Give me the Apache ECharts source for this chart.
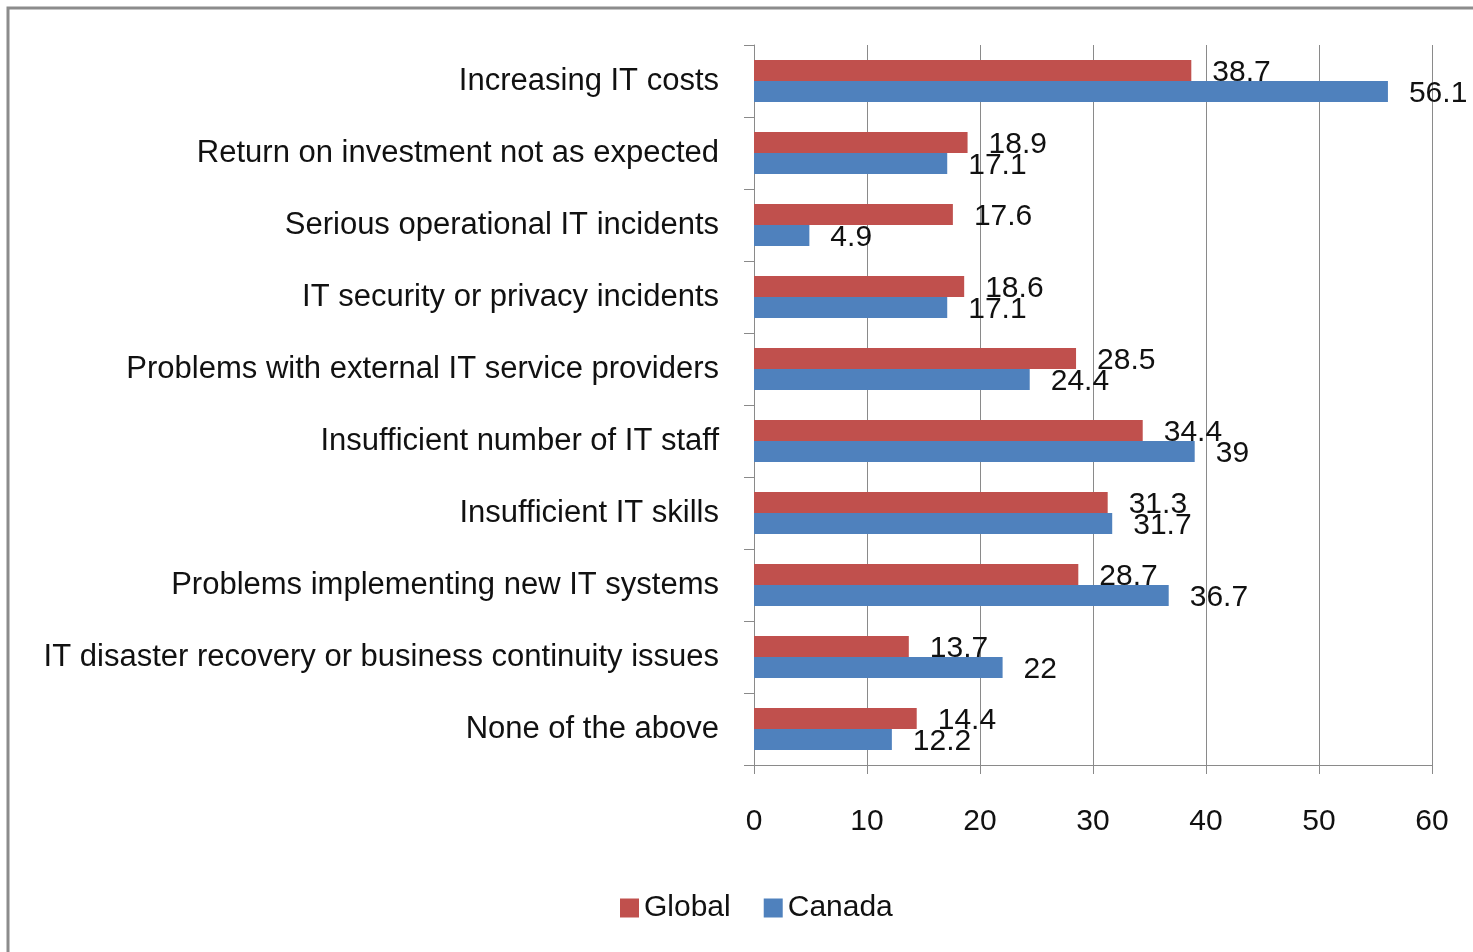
<!DOCTYPE html>
<html>
<head>
<meta charset="utf-8">
<script src="https://cdn.jsdelivr.net/npm/echarts@6/dist/echarts.min.js"></script>
<style>
  html, body { margin: 0; padding: 0; background: #fff; }
  #chart { width: 1473px; height: 952px; }
</style>
</head>
<body>
<div id="chart"></div>
<script>
// Survey categories, listed top to bottom
const categories = [
  'Increasing IT costs',
  'Return on investment not as expected',
  'Serious operational IT incidents',
  'IT security or privacy incidents',
  'Problems with external IT service providers',
  'Insufficient number of IT staff',
  'Insufficient IT skills',
  'Problems implementing new IT systems',
  'IT disaster recovery or business continuity issues',
  'None of the above'
];

// Percent of respondents
const globalValues = [38.7, 18.9, 17.6, 18.6, 28.5, 34.4, 31.3, 28.7, 13.7, 14.4];
const canadaValues = [56.1, 17.1, 4.9, 17.1, 24.4, 39, 31.7, 36.7, 22, 12.2];

const seriesNames = ['Global', 'Canada'];
const xTicks = { min: 0, max: 60, interval: 10 };

const FONT = "'Liberation Sans', Arial, sans-serif";
const GRID_COLOR = '#8a8a8a';

const chart = echarts.init(document.getElementById('chart'), null, { renderer: 'canvas' });

const labelStyle = {
  show: true,
  position: 'right',
  distance: 20,
  offset: [1, 2],
  color: '#111',
  fontFamily: FONT,
  fontSize: 30
};

chart.setOption({
  animation: false,
  backgroundColor: '#fff',
  textStyle: { fontFamily: FONT },
  graphic: [{
    type: 'rect',
    shape: { x: 8, y: 8, width: 1500, height: 1000 },
    style: { fill: 'none', stroke: '#8c8c8c', lineWidth: 3 },
    silent: true
  }],
  legend: {
    data: seriesNames,
    left: 615,
    top: 888,
    icon: 'rect',
    itemWidth: 19,
    itemHeight: 19,
    itemGap: 33,
    textStyle: { fontFamily: FONT, fontSize: 30, color: '#111' }
  },
  grid: { left: 754, right: 41, top: 45, bottom: 187, containLabel: false },
  xAxis: {
    type: 'value',
    min: xTicks.min,
    max: xTicks.max,
    interval: xTicks.interval,
    axisLine: { show: true, lineStyle: { color: GRID_COLOR, width: 1 } },
    axisTick: { show: true, length: 9, lineStyle: { color: GRID_COLOR } },
    splitLine: { show: true, lineStyle: { color: GRID_COLOR, width: 1 } },
    axisLabel: { fontFamily: FONT, fontSize: 30, color: '#111', margin: 42 }
  },
  yAxis: {
    type: 'category',
    data: categories,
    inverse: true,
    axisLine: { show: true, lineStyle: { color: GRID_COLOR, width: 1 } },
    axisTick: { show: true, length: 10, interval: 0, lineStyle: { color: GRID_COLOR } },
    axisLabel: { fontFamily: FONT, fontSize: 31, color: '#111', margin: 35, interval: 0 }
  },
  series: [
    {
      name: seriesNames[0],
      type: 'bar',
      data: globalValues,
      barWidth: 21,
      barGap: '0%',
      itemStyle: { color: '#C0504D' },
      label: labelStyle
    },
    {
      name: seriesNames[1],
      type: 'bar',
      data: canadaValues,
      barWidth: 21,
      barGap: '0%',
      itemStyle: { color: '#4F81BD' },
      label: labelStyle
    }
  ]
});
</script>
</body>
</html>
